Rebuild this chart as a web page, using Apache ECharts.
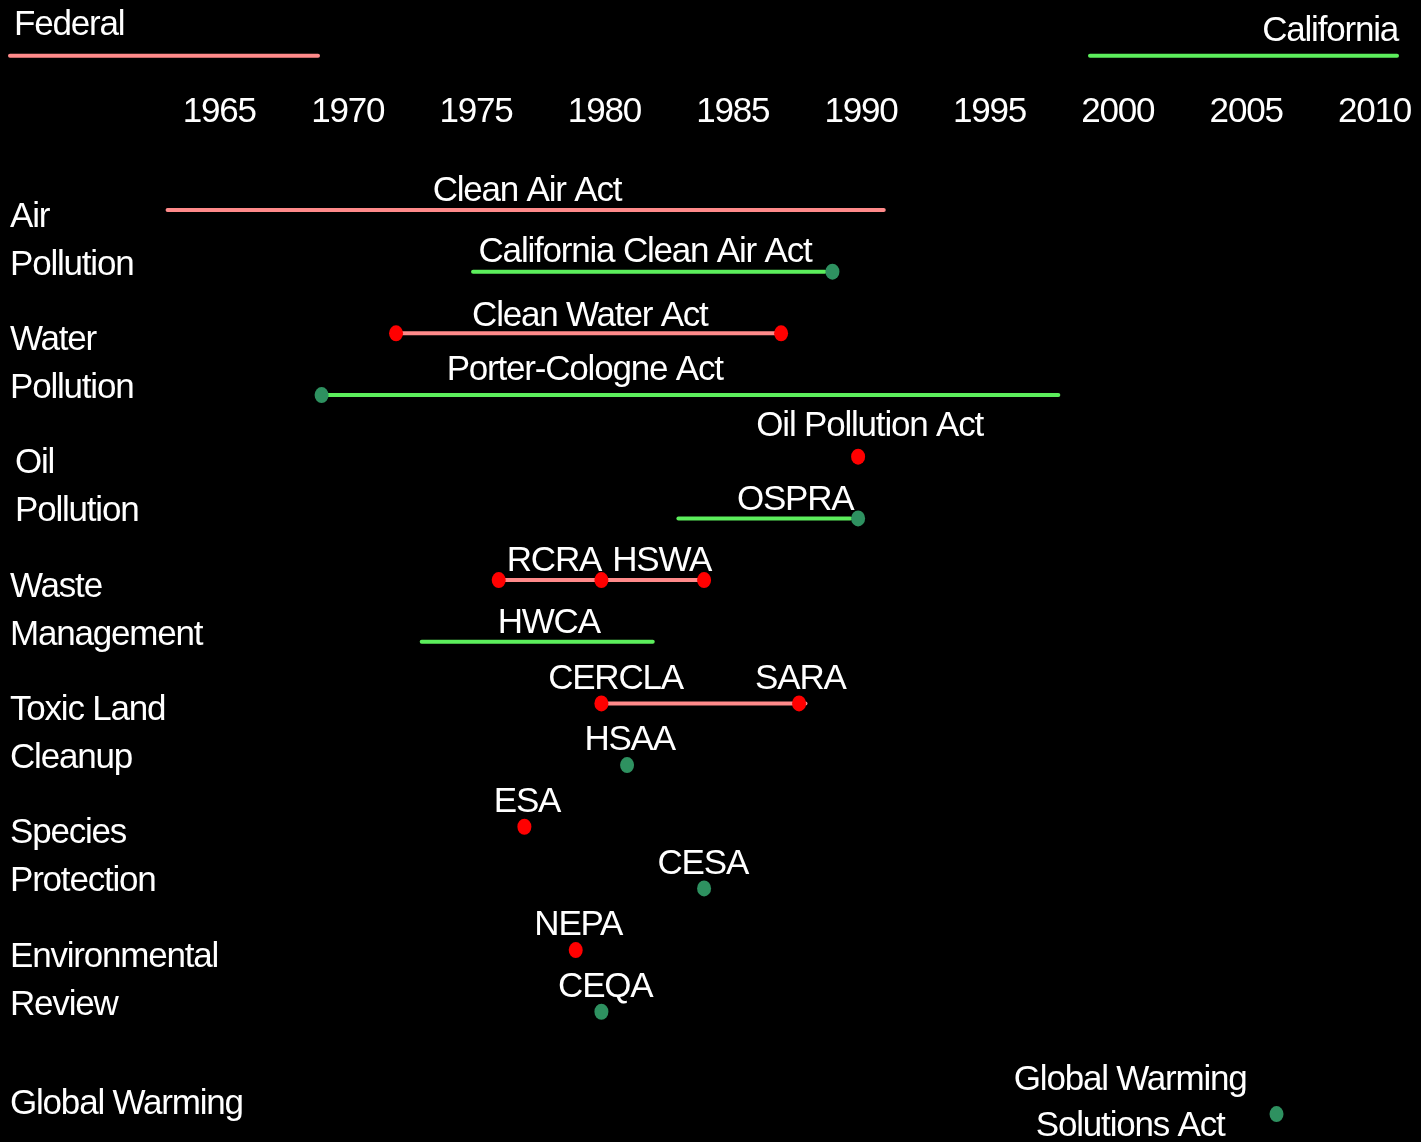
<!DOCTYPE html>
<html>
<head>
<meta charset="utf-8">
<script src="https://cdn.jsdelivr.net/npm/echarts@6/dist/echarts.min.js"></script>
<style>
html,body{margin:0;padding:0;background:#000;}
#c{width:1421px;height:1142px;}
</style>
</head>
<body>
<div id="c"></div>
<script>
// ---- data ----
const groups = ['Air\nPollution', 'Water\nPollution', 'Oil\nPollution', 'Waste\nManagement',
  'Toxic Land\nCleanup', 'Species\nProtection', 'Environmental\nReview', 'Global Warming'];

// spans: [startYear, endYear, row]
const federalSpans = [[1963.1, 1991.0, 0], [1972, 1987, 2], [1976, 1984, 6], [1980, 1987.95, 8]];
const stateSpans = [[1975.0, 1988.7, 1], [1969.2, 1997.8, 3], [1983.0, 1989.7, 5], [1973.0, 1982.0, 7]];

// acts: [year, row]
const federalActs = [[1972, 2], [1987, 2], [1990, 4], [1976, 6], [1980, 6], [1984, 6],
  [1980, 8], [1987.7, 8], [1977, 10], [1979, 12]];
const stateActs = [[1989, 1], [1969.1, 3], [1990, 5], [1981, 9], [1984, 11], [1980, 13], [2006.3, 14.66]];

// act names: [name, year, row]
const actLabels = [
  ['Clean Air Act', 1977.1, -0.34],
  ['California Clean Air Act', 1981.7, 0.66],
  ['Clean Water Act', 1979.55, 1.69],
  ['Porter-Cologne Act', 1979.35, 2.56],
  ['Oil Pollution Act', 1990.45, 3.48],
  ['OSPRA', 1987.55, 4.67],
  ['RCRA', 1978.15, 5.67],
  ['HSWA', 1982.35, 5.67],
  ['HWCA', 1977.95, 6.67],
  ['CERCLA', 1980.55, 7.585],
  ['SARA', 1987.75, 7.585],
  ['HSAA', 1981.1, 8.57],
  ['ESA', 1977.1, 9.58],
  ['CESA', 1983.95, 10.58],
  ['NEPA', 1979.1, 11.57],
  ['CEQA', 1980.15, 12.57],
  ['Global Warming\nSolutions Act', 2000.6, 14.45]
];

const legendNames = ['Federal', 'California'];

// ---- styles ----
const FONT = '"Liberation Sans", Arial, sans-serif';
const PINK = '#ff8a8a';
const GREEN = '#5cee5c';
const RED = '#ff0000';
const SEA = '#2e9160';

// slightly condensed text like the reference
(function () {
  const orig = CanvasRenderingContext2D.prototype.fillText;
  CanvasRenderingContext2D.prototype.fillText = function () {
    try { this.letterSpacing = '-1.2px'; } catch (e) {}
    return orig.apply(this, arguments);
  };
})();

function spanSeries(spans, color) {
  return spans.map(s => ({
    type: 'line',
    silent: true,
    symbol: 'none',
    data: [[s[0], s[2]], [s[1], s[2]]],
    lineStyle: { color: color, width: 4, cap: 'round' },
    z: 2
  }));
}

const chart = echarts.init(document.getElementById('c'), null, { renderer: 'canvas' });

const option = {
  backgroundColor: '#000',
  animation: false,
  textStyle: { fontFamily: FONT },
  grid: {
    left: 88, top: 179.2, width: 1334.84, height: 986.7,
    containLabel: false, outerBoundsMode: 'none'
  },
  xAxis: {
    type: 'value', position: 'top', min: 1960, max: 2012, interval: 5,
    axisLine: { show: false }, axisTick: { show: false }, splitLine: { show: false },
    axisLabel: {
      color: '#fff', fontSize: 35, fontFamily: FONT, margin: 49.5, showMinLabel: false,
      padding: [0, 0, 0, 6],
      formatter: v => (v % 5 === 0 && v >= 1965 && v <= 2010) ? String(v) : ''
    }
  },
  yAxis: [
    { type: 'value', min: -0.5, max: 15.5, inverse: true, show: false },
    {
      type: 'category', data: groups, inverse: true, position: 'left',
      axisLine: { show: false }, axisTick: { show: false }, splitLine: { show: false },
      axisLabel: {
        interval: 0, color: '#fff', fontSize: 35, fontFamily: FONT, lineHeight: 48,
        align: 'left', margin: 78,
        formatter: v => v === 'Oil\nPollution' ? '{i|Oil}\n{i|Pollution}' : v,
        rich: { i: { color: '#fff', fontSize: 35, fontFamily: FONT, lineHeight: 48, padding: [0, 0, 0, 5] } }
      }
    }
  ],
  graphic: [
    { type: 'text', left: 14, top: 8, style: { text: legendNames[0], fill: '#fff', font: '35px ' + FONT } },
    { type: 'line', shape: { x1: 10, y1: 55.7, x2: 318, y2: 55.7 }, style: { stroke: PINK, lineWidth: 4, lineCap: 'round' } },
    { type: 'text', right: 11, top: 14, style: { text: legendNames[1], fill: '#fff', font: '35px ' + FONT } },
    { type: 'line', shape: { x1: 1090, y1: 55.7, x2: 1397, y2: 55.7 }, style: { stroke: GREEN, lineWidth: 4, lineCap: 'round' } }
  ],
  series: [
    ...spanSeries(federalSpans, PINK),
    ...spanSeries(stateSpans, GREEN),
    {
      type: 'scatter', silent: true, data: federalActs, symbol: 'circle', symbolSize: [14, 16],
      itemStyle: { color: RED, opacity: 1 }, z: 3
    },
    {
      type: 'scatter', silent: true, data: stateActs, symbol: 'circle', symbolSize: [14, 16],
      itemStyle: { color: SEA, opacity: 1 }, z: 3
    },
    {
      type: 'scatter', silent: true, symbolSize: 0, z: 4,
      itemStyle: { opacity: 1 },
      data: actLabels.map(a => ({ name: a[0], value: [a[1], a[2]] })),
      label: {
        show: true, position: 'inside', formatter: '{b}', color: '#ffffff', opacity: 1,
        fontSize: 35, fontFamily: FONT, lineHeight: 46, align: 'center', verticalAlign: 'middle',
        offset: [0, 2]
      }
    }
  ]
};
chart.setOption(option);
</script>
</body>
</html>
